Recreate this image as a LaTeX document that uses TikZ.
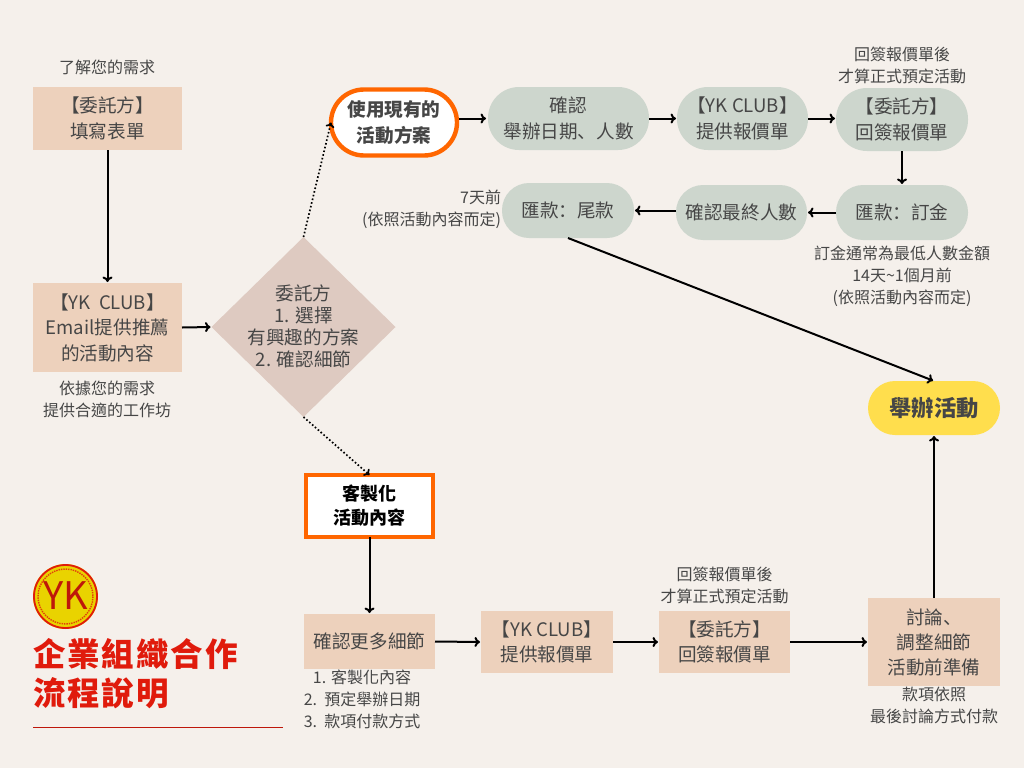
\documentclass[tikz,border=0pt]{standalone}
\usepackage{fontspec}
\setmainfont{Noto Sans CJK TC}
\newfontfamily\scfont{Noto Sans CJK SC}
\usetikzlibrary{arrows.meta,shapes.geometric}
\definecolor{bgc}{HTML}{F5F0EB}
\definecolor{peach}{HTML}{EDD1BC}
\definecolor{sage}{HTML}{CDD6CD}
\definecolor{mauve}{HTML}{DECAC1}
\definecolor{orng}{HTML}{FF6600}
\definecolor{yel}{HTML}{FFDE4D}
\definecolor{ttl}{HTML}{E01B0C}
\definecolor{txt}{HTML}{464646}
\definecolor{gold}{HTML}{E9D300}
\tikzset{
  x=1pt,y=-1pt,
  every node/.style={inner sep=0pt,outer sep=0pt,align=center,text=txt,font=\fontsize{18.6}{25.5}\selectfont},
  sq/.style={rectangle,fill=peach,minimum width=#1},
  pill/.style={rectangle,rounded corners=27pt,fill=sage,minimum width=#1},
  capt/.style={font=\fontsize{16}{22}\selectfont},
  arr/.style={-{To[length=5.5pt,width=10pt]},line width=2pt,black,shorten >=1pt},
  dotline/.style={-{To[length=5pt,width=9pt]},line width=1.7pt,black,dash pattern=on 1.6pt off 2.2pt}
}
\begin{document}
\begin{tikzpicture}
\fill[bgc] (0,0) rectangle (1024,768);
\useasboundingbox (0,0) rectangle (1024,768);
% top-left column
\node[capt] (c1) at (107,67) {了解您的需求};
\node[sq=149pt,minimum height=63pt] (form) at (107.5,118.5) {【委託方】\\填寫表單};
\node[sq=149pt,minimum height=89pt] (email) at (107.5,327.5) {【YK\ \ CLUB】\\Email提供推薦\\的活動內容};
\node[capt] (c2) at (107,399) {依據您的需求\\提供合適的工作坊};
% diamond
\node[diamond,fill=mauve,aspect=1,minimum width=184pt,minimum height=180pt] (dia) at (303.5,327) {};
\node[font=\fontsize{18.6}{22}\selectfont] (diat) at (303.5,326) {委託方\\1. 選擇\\有興趣的方案\\2. 確認細節};
% existing plan row
\node[rectangle,rounded corners=33pt,draw=orng,line width=4.4pt,fill=white,minimum width=126pt,minimum height=66pt,font=\fontsize{18.6}{26}\selectfont\bfseries] (exist) at (394,122.5) {使用現有的\\活動方案};
\node[pill=161pt,minimum height=63pt,rounded corners=31pt] (confirm) at (568.5,118.5) {確認\\舉辦日期{\scfont 、}人數};
\node[pill=131pt,minimum height=63pt,rounded corners=31pt] (quote1) at (742.5,118.5) {【YK CLUB】\\提供報價單};
\node[pill=132pt,minimum height=63pt,rounded corners=31pt] (sign1) at (902,119.5) {【委託方】\\回簽報價單};
\node[capt] (c3) at (902,65) {回簽報價單後\\才算正式預定活動};
\node[pill=132pt,minimum height=55pt] (deposit) at (902,212.5) {匯款{\scfont ：}訂金};
\node[pill=131pt,minimum height=55pt] (final) at (741.5,212.5) {確認最終人數};
\node[pill=132pt,minimum height=55pt] (tail) at (568,210.5) {匯款{\scfont ：}尾款};
\node[capt,align=right,anchor=east] (c4) at (501,209.5) {7天前\\(依照活動內容而定)};
\node[capt] (c5) at (902,276.5) {訂金通常為最低人數金額\\14天\textasciitilde 1個月前\\(依照活動內容而定)};
% event
\node[rectangle,rounded corners=27pt,fill=yel,minimum width=132pt,minimum height=54pt,font=\fontsize{22.3}{24}\selectfont\bfseries] (event) at (934,408) {舉辦活動};
% custom row
\node[rectangle,draw=orng,line width=3.4pt,fill=white,minimum width=127pt,minimum height=62pt,font=\fontsize{18}{24}\selectfont\bfseries,text=black] (custom) at (369.5,506) {客製化\\活動內容};
\node[sq=131pt,minimum height=55pt] (more) at (369.5,641.5) {確認更多細節};
\node[capt] (c6) at (362,699) {1. 客製化內容\\2.\ \ 預定舉辦日期\\3.\ \ 款項付款方式};
\node[sq=132pt,minimum height=62pt] (quote2) at (547,642) {【YK CLUB】\\提供報價單};
\node[sq=131pt,minimum height=62pt] (sign2) at (724.5,642) {【委託方】\\回簽報價單};
\node[capt] (c7) at (724.5,585) {回簽報價單後\\才算正式預定活動};
\node[sq=132pt,minimum height=88pt,font=\fontsize{18.6}{25}\selectfont] (prep) at (934,642) {討論{\scfont 、}\\調整細節\\活動前準備};
\node[capt] (c8) at (934,705) {款項依照\\最後討論方式付款};
% connectors
\draw[arr] (form.south) -- (email.north);
\draw[arr] (email.east) -- (dia.west);
\draw[dotline] (dia.north) -- (exist.west);
\draw[dotline] (dia.south) -- (custom.north);
\draw[arr,shorten <=2pt,shorten >=2pt] (exist.east |- confirm.west) -- (confirm.west);
\draw[arr] (confirm.east) -- (quote1.west);
\draw[arr] (quote1.east) -- (quote1.east -| sign1.west);
\draw[arr] (sign1.south) -- (deposit.north);
\draw[arr] (deposit.west) -- (final.east);
\draw[arr] (final.west |- tail.east) -- (tail.east);
\draw[arr] (tail.south) -- (event.north);
\draw[arr] (custom.south) -- (more.north);
\draw[arr] (more.east) -- (quote2.west);
\draw[arr] (quote2.east) -- (sign2.west);
\draw[arr] (sign2.east) -- (prep.west);
\draw[arr] (prep.north) -- (event.south);
% logo
\fill[gold] (65.5,596.5) circle (32.5);
\draw[ttl,line width=1.8pt] (65.5,596.5) circle (31.5);
\draw[ttl!80!gold,line width=1.4pt,densely dotted] (65.5,596.5) circle (27.5);
\node[text=ttl!85!black,font=\fontsize{38}{38}\selectfont] (yk) at (65.5,596) {YK};
% title
\node[anchor=west,text=ttl,align=left,font=\fontsize{32.5}{38.5}\selectfont\bfseries] (title) at (33,673.5) {\addfontfeature{LetterSpace=6}企業組織合作\\\addfontfeature{LetterSpace=6}流程說明};
\coordinate (ruleA) at (33,727.5);
\coordinate (ruleB) at (283,727.5);
\draw[ttl!85!black,line width=0.8pt] (ruleA) -- (ruleB);
\end{tikzpicture}
\end{document}
